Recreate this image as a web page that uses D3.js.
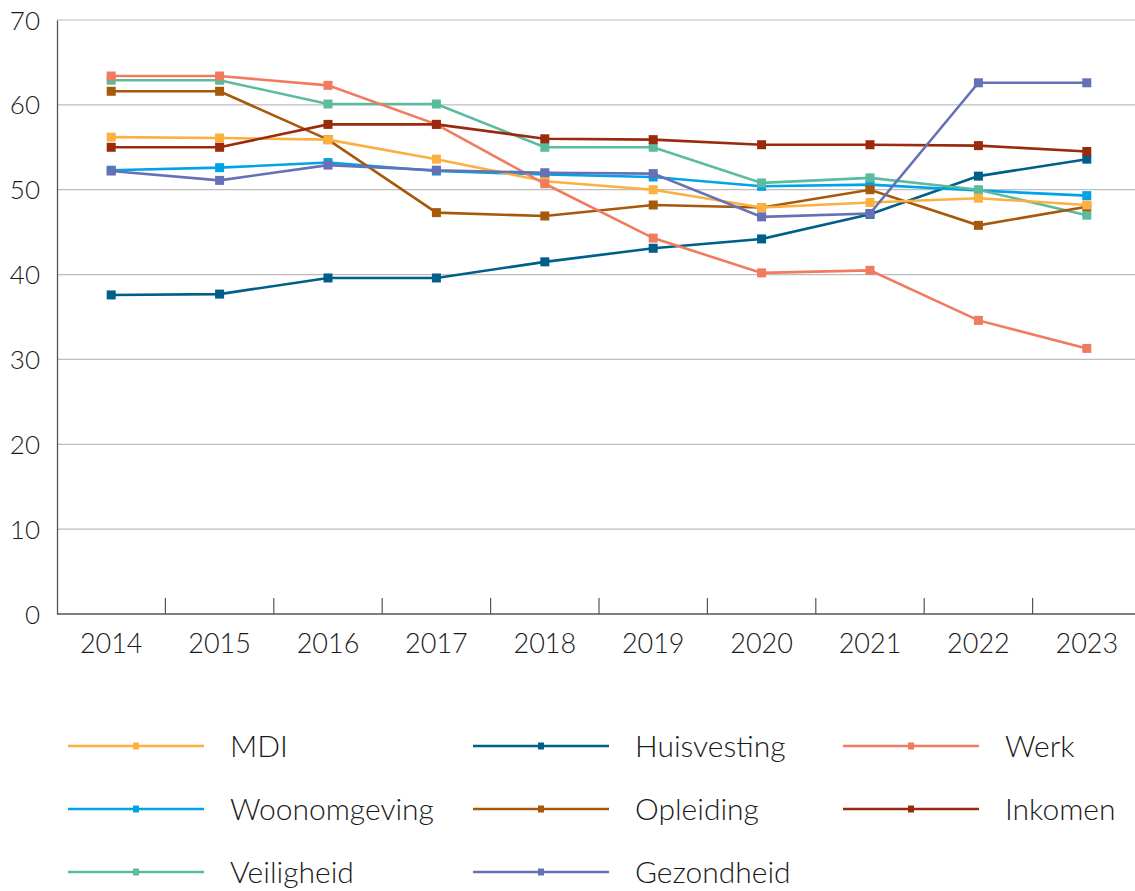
<!DOCTYPE html>
<html>
<head>
<meta charset="utf-8">
<script src="https://cdn.jsdelivr.net/npm/d3@7"></script>
<style>
  html, body { margin: 0; padding: 0; background: #fff; }
  svg text { font-family: "Lato", "Open Sans", sans-serif; font-weight: 300; fill: #1a1a1a; }
</style>
</head>
<body>
<svg id="chart" width="1135" height="891"></svg>
<script>
const years = ["2014","2015","2016","2017","2018","2019","2020","2021","2022","2023"];
const yTicks = [0, 10, 20, 30, 40, 50, 60, 70];

const mdi          = [56.2, 56.1, 55.9, 53.6, 51.0, 50.0, 47.9, 48.5, 49.0, 48.2];
const huisvesting  = [37.6, 37.7, 39.6, 39.6, 41.5, 43.1, 44.2, 47.1, 51.6, 53.6];
const werk         = [63.4, 63.4, 62.3, 57.7, 50.7, 44.3, 40.2, 40.5, 34.6, 31.3];
const woonomgeving = [52.3, 52.6, 53.2, 52.2, 51.8, 51.5, 50.4, 50.6, 49.9, 49.3];
const opleiding    = [61.6, 61.6, 55.9, 47.3, 46.9, 48.2, 47.9, 50.0, 45.8, 48.0];
const inkomen      = [55.0, 55.0, 57.7, 57.7, 56.0, 55.9, 55.3, 55.3, 55.2, 54.5];
const veiligheid   = [62.9, 62.9, 60.1, 60.1, 55.0, 55.0, 50.8, 51.4, 50.0, 47.0];
const gezondheid   = [52.2, 51.1, 52.9, 52.3, 52.0, 51.9, 46.8, 47.2, 62.6, 62.6];

const seriesNames  = ["MDI","Huisvesting","Werk","Woonomgeving","Opleiding","Inkomen","Veiligheid","Gezondheid"];
const seriesValues = [mdi, huisvesting, werk, woonomgeving, opleiding, inkomen, veiligheid, gezondheid];
const seriesColors = ["#FBB040","#005E8A","#F07B5E","#00A3E6","#A6580B","#9B2A0D","#5BBB9E","#6670B6"];

const svg = d3.select("#chart");
const x = d3.scaleBand().domain(years).range([57, 1141]);
const y = d3.scaleLinear().domain([0, 70]).range([614, 20]);

// gridlines
svg.append("g").selectAll("line").data(yTicks.filter(t => t > 0)).join("line")
  .attr("x1", 57).attr("x2", 1135)
  .attr("y1", d => y(d)).attr("y2", d => y(d))
  .attr("stroke", "#bdbdbd").attr("stroke-width", 1.2);

// y axis
const yAxis = svg.append("g").attr("transform", "translate(57,0)")
  .call(d3.axisLeft(y).tickValues(yTicks).tickSize(0).tickPadding(17));
yAxis.select(".domain").attr("stroke", "#555").attr("stroke-width", 1.3);
yAxis.selectAll("text").style("font-size", "26px").attr("dy", "0.35em");

// x axis
const xAxis = svg.append("g").attr("transform", "translate(0,614)")
  .call(d3.axisBottom(x).tickSize(0).tickPadding(20));
xAxis.select(".domain").attr("stroke", "#555").attr("stroke-width", 1.3).attr("d", "M57,0H1135");
xAxis.selectAll("text").style("font-size", "27px").attr("dy", "0.72em");
// boundary ticks between categories
svg.append("g").selectAll("line").data(years.slice(1)).join("line")
  .attr("x1", d => x(d)).attr("x2", d => x(d))
  .attr("y1", 598).attr("y2", 614)
  .attr("stroke", "#555").attr("stroke-width", 1.2);

const line = d3.line().x((d, i) => x(years[i]) + x.bandwidth() / 2).y(d => y(d));
const drawOrder = [1, 3, 6, 4, 0, 2, 5, 7];
drawOrder.forEach(si => {
  const g = svg.append("g");
  g.append("path").datum(seriesValues[si])
    .attr("d", line).attr("fill", "none")
    .attr("stroke", seriesColors[si]).attr("stroke-width", 2.6);
  g.selectAll("rect").data(seriesValues[si]).join("rect")
    .attr("x", (d, i) => x(years[i]) + x.bandwidth() / 2 - 4.5)
    .attr("y", d => y(d) - 4.5)
    .attr("width", 9).attr("height", 9)
    .attr("fill", seriesColors[si]);
});

// legend
const colX = [68, 473, 843];
const rowY = [746, 809, 872];
const legend = svg.append("g");
seriesNames.forEach((name, i) => {
  const col = i % 3, row = Math.floor(i / 3);
  const lx = colX[col], ly = rowY[row];
  legend.append("line").attr("x1", lx).attr("x2", lx + 136)
    .attr("y1", ly).attr("y2", ly)
    .attr("stroke", seriesColors[i]).attr("stroke-width", 2.6);
  legend.append("rect").attr("x", lx + 68 - 3).attr("y", ly - 3.5)
    .attr("width", 6).attr("height", 7).attr("fill", seriesColors[i]);
  legend.append("text").attr("x", lx + 162).attr("y", ly).attr("dy", "0.35em")
    .style("font-size", "30px").text(name);
});
</script>
</body>
</html>
